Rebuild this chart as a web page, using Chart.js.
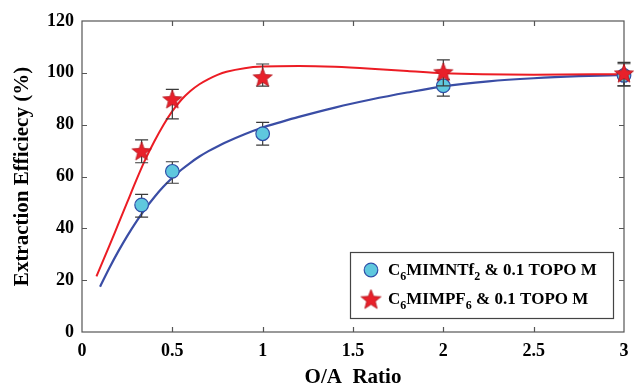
<!DOCTYPE html>
<html><head><meta charset="utf-8">
<script src="https://cdn.jsdelivr.net/npm/chart.js@4.4.0/dist/chart.umd.min.js"></script>
<style>html,body{margin:0;padding:0;background:#fff}</style>
</head><body>
<canvas id="c" width="635" height="387"></canvas>
<script>
// ---- data ----
const xPoints   = [0.33, 0.5, 1, 2, 3];
const blueVals  = [49, 62, 76.5, 95, 99];
const blueLow   = [44.3, 57.4, 72.1, 91, 95];
const blueHigh  = [53.1, 65.7, 80.9, 97.5, 103.5];
const redVals   = [69.5, 89.5, 98, 100, 99.5];
const redLow    = [65.3, 82.2, 94.9, 95, 95];
const redHigh   = [74.1, 93.6, 103.4, 105, 104];

const redCurveX  = [0.08, 0.15, 0.2, 0.25, 0.3, 0.35, 0.4, 0.45, 0.5, 0.55, 0.6, 0.65, 0.7, 0.75, 0.8, 0.9, 1.0, 1.2, 1.4, 1.6, 1.8, 2.0, 2.5, 3.0];
const redCurveY  = [21.5, 33, 41.5, 50, 58.5, 66.5, 73.5, 79.8, 85.2, 89.6, 93, 95.6, 97.6, 99.2, 100.4, 101.8, 102.4, 102.6, 102.3, 101.6, 100.7, 99.8, 99.3, 99.5];
const blueCurveX = [0.1, 0.15, 0.2, 0.25, 0.3, 0.35, 0.4, 0.45, 0.5, 0.55, 0.6, 0.65, 0.7, 0.75, 0.8, 0.9, 1.0, 1.1, 1.2, 1.4, 1.6, 1.8, 2.0, 2.25, 2.5, 2.75, 3.0];
const blueCurveY = [17.5, 24.5, 31, 37, 42.5, 47.5, 52, 56, 59.5, 62.6, 65.3, 67.7, 69.8, 71.6, 73.3, 76.3, 78.9, 81, 83, 86.6, 89.7, 92.4, 94.8, 96.7, 97.9, 98.7, 99.2];

const xTicks = [0, 0.5, 1, 1.5, 2, 2.5, 3];
const yTicks = [0, 20, 40, 60, 80, 100, 120];
const xTitle = 'O/A  Ratio';
const yTitle = 'Extraction Efficiecy (%)';
const legendLabels = ['C_6MIMNTf_2 & 0.1 TOPO M', 'C_6MIMPF_6 & 0.1 TOPO M'];

// ---- styles ----
const RED = '#EC1C24', BLUE = '#3A4DA5', CYAN = '#5FC8DE', CIRCLE_EDGE = '#2F50A8';
const FONT = "'Liberation Serif', 'Times New Roman', serif";

function makeStar(outer, inner, fill, stroke) {
  const s = Math.ceil(outer * 2 + 2);
  const cv = document.createElement('canvas');
  cv.width = s; cv.height = s;
  const g = cv.getContext('2d');
  g.beginPath();
  for (let i = 0; i < 10; i++) {
    const r = i % 2 ? inner : outer;
    const a = -Math.PI / 2 + i * Math.PI / 5;
    const px = s / 2 + r * Math.cos(a), py = s / 2 + r * Math.sin(a);
    i ? g.lineTo(px, py) : g.moveTo(px, py);
  }
  g.closePath();
  g.fillStyle = fill; g.fill();
  g.strokeStyle = stroke; g.lineWidth = 0.8; g.stroke();
  return cv;
}
const starImg = makeStar(10, 4.3, '#E8202A', '#B0141C');
const starImgLegend = makeStar(10.5, 4.5, '#E8202A', '#B0141C');

const pts = (xs, ys) => xs.map((x, i) => ({x, y: ys[i]}));

function drawErr(chart, lows, highs) {
  const {ctx, scales: {x, y}} = chart;
  ctx.save();
  ctx.strokeStyle = '#3a3a3a'; ctx.lineWidth = 1.2;
  xPoints.forEach((xv, i) => {
    const px = x.getPixelForValue(xv);
    const y1 = y.getPixelForValue(lows[i]), y2 = y.getPixelForValue(highs[i]);
    ctx.beginPath();
    ctx.moveTo(px, y1); ctx.lineTo(px, y2);
    ctx.moveTo(px - 6.5, y1); ctx.lineTo(px + 6.5, y1);
    ctx.moveTo(px - 6.5, y2); ctx.lineTo(px + 6.5, y2);
    ctx.stroke();
  });
  ctx.restore();
}

const errorPlugin = {
  id: 'errbars',
  beforeDatasetDraw(chart, args) {
    const lbl = chart.data.datasets[args.index].label;
    if (lbl === 'blueMarkers') drawErr(chart, blueLow, blueHigh);
    if (lbl === 'redMarkers') drawErr(chart, redLow, redHigh);
  }
};

const framePlugin = {
  id: 'frame',
  beforeDatasetsDraw(chart) {
    const {ctx, chartArea: a, scales: {x, y}} = chart;
    ctx.save();
    ctx.strokeStyle = '#555'; ctx.lineWidth = 1.2;
    ctx.strokeRect(a.left, a.top, a.right - a.left, a.bottom - a.top);
    ctx.beginPath();
    xTicks.slice(1, -1).forEach(v => {
      const px = Math.round(x.getPixelForValue(v)) + 0.5;
      ctx.moveTo(px, a.bottom); ctx.lineTo(px, a.bottom - 5);
      ctx.moveTo(px, a.top); ctx.lineTo(px, a.top + 5);
    });
    yTicks.slice(1, -1).forEach(v => {
      const py = Math.round(y.getPixelForValue(v)) + 0.5;
      ctx.moveTo(a.left, py); ctx.lineTo(a.left + 5, py);
      ctx.moveTo(a.right, py); ctx.lineTo(a.right - 5, py);
    });
    ctx.stroke();
    ctx.restore();
  }
};

function drawRich(ctx, label, x, y, size) {
  let cx = x;
  for (let i = 0; i < label.length; i++) {
    let ch = label[i];
    if (ch === '_' && i + 1 < label.length) {
      i++; ch = label[i];
      ctx.font = `bold ${Math.round(size * 0.7)}px ${FONT}`;
      ctx.fillText(ch, cx, y + size * 0.3);
      cx += ctx.measureText(ch).width;
    } else {
      ctx.font = `bold ${size}px ${FONT}`;
      ctx.fillText(ch, cx, y);
      cx += ctx.measureText(ch).width;
    }
  }
}

const legendPlugin = {
  id: 'boxLegend',
  afterDraw(chart) {
    const {ctx, chartArea: a} = chart;
    const w = 263, h = 66;
    const bx = a.right - 11 - w, by = a.bottom - 14 - h;
    ctx.save();
    ctx.fillStyle = '#fff';
    ctx.fillRect(bx, by, w, h);
    ctx.strokeStyle = '#444'; ctx.lineWidth = 1.2;
    ctx.strokeRect(bx + 0.5, by + 0.5, w, h);
    const mx = bx + 21;
    ctx.beginPath();
    ctx.arc(mx, by + 18, 6.8, 0, Math.PI * 2);
    ctx.fillStyle = CYAN; ctx.fill();
    ctx.strokeStyle = CIRCLE_EDGE; ctx.lineWidth = 1.2; ctx.stroke();
    ctx.drawImage(starImgLegend, mx - starImgLegend.width / 2, by + 48 - starImgLegend.height / 2);
    ctx.fillStyle = '#000';
    ctx.textBaseline = 'alphabetic';
    drawRich(ctx, legendLabels[0], bx + 38, by + 23, 17);
    drawRich(ctx, legendLabels[1], bx + 38, by + 52, 17);
    ctx.restore();
  }
};

new Chart(document.getElementById('c'), {
  type: 'scatter',
  data: {
    datasets: [
      { label: 'redMarkers', data: pts(xPoints, redVals), pointStyle: starImg,
        pointRadius: 10, showLine: false, order: 0, clip: false },
      { label: 'blueMarkers', data: pts(xPoints, blueVals), pointStyle: 'circle',
        pointRadius: 6.8, pointBackgroundColor: CYAN, pointBorderColor: CIRCLE_EDGE,
        pointBorderWidth: 1.2, showLine: false, order: 1, clip: false },
      { label: 'redCurve', data: pts(redCurveX, redCurveY), showLine: true, pointRadius: 0,
        borderColor: RED, borderWidth: 2, cubicInterpolationMode: 'monotone', order: 2 },
      { label: 'blueCurve', data: pts(blueCurveX, blueCurveY), showLine: true, pointRadius: 0,
        borderColor: BLUE, borderWidth: 2.2, cubicInterpolationMode: 'monotone', order: 3 }
    ]
  },
  options: {
    responsive: false, animation: false, devicePixelRatio: 1,
    layout: { padding: { top: 21, right: 2, left: 0, bottom: 0 } },
    plugins: { legend: { display: false }, tooltip: { enabled: false } },
    scales: {
      x: {
        type: 'linear', min: 0, max: 3,
        afterBuildTicks: s => { s.ticks = xTicks.map(v => ({value: v})); },
        afterFit: s => { s.height = 55; },
        grid: { display: false, drawTicks: true, tickLength: 9 }, border: { display: false },
        ticks: { color: '#000', padding: 0, font: { family: FONT, size: 18, weight: 'bold' },
                 callback: v => String(v) },
        title: { display: true, text: xTitle, color: '#000', padding: { top: 0, bottom: 0 },
                 font: { family: FONT, size: 21, weight: 'bold', lineHeight: 0.9 } }
      },
      y: {
        type: 'linear', min: 0, max: 120,
        afterBuildTicks: s => { s.ticks = yTicks.map(v => ({value: v})); },
        afterFit: s => { s.width = 82; },
        grid: { display: false, drawTicks: false }, border: { display: false },
        ticks: { color: '#000', padding: 8, font: { family: FONT, size: 18, weight: 'bold' },
                 callback: v => String(v) },
        title: { display: true, text: yTitle, color: '#000', padding: { top: 10, bottom: 0 },
                 font: { family: FONT, size: 21, weight: 'bold' } }
      }
    }
  },
  plugins: [framePlugin, errorPlugin, legendPlugin]
});
</script>
</body></html>
